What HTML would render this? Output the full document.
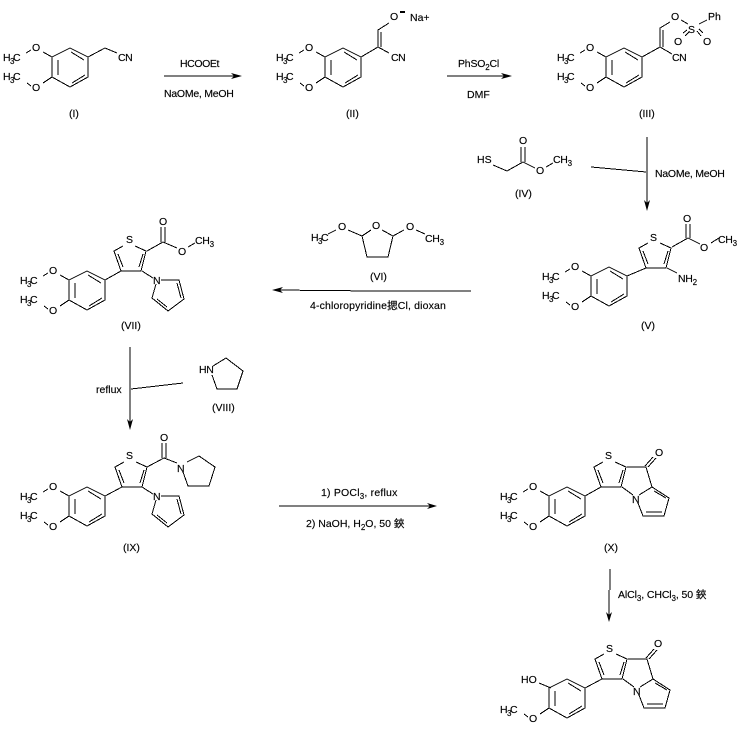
<!DOCTYPE html>
<html><head><meta charset="utf-8"><style>
html,body{margin:0;padding:0;background:#fff}
svg{display:block}
text{font-family:"Liberation Sans","Noto Sans CJK SC",sans-serif;font-size:10.5px;fill:#000;stroke:#000;stroke-width:.15}
text.s,tspan.s{font-size:8px}
path{fill:none;stroke:#000;stroke-width:1;shape-rendering:crispEdges}
polygon{fill:#000;stroke:none}
</style></head><body>
<svg width="742" height="731" viewBox="0 0 742 731" xmlns="http://www.w3.org/2000/svg">
<rect width="742" height="731" fill="#fff"/>
<defs>
<path id="ar" d="M70 48L88 57L88 77L70 87L52 77L52 57L70 48M58 60L58 75M71 52L84 60M72 83L85 75M43 52L52 57M43 83L52 77M26 53L31 50M27 83L31 86"/>
<path id="ar2" d="M70 48L88 57L88 77L70 87L52 77L52 57L70 48M58 60L58 75M71 52L84 60M72 83L85 75M43 83L52 77M27 83L31 86M42 52L54 57"/>
<path id="th" d="M0 0L-7 -20L2 -25M14 -25L25 -20L20 0L0 0M-3 -17L2 -4M22 -17L18 -4"/>
<path id="py" d="M161 280L179 280L184 299L168 311L152 298L156 284M177 283L181 298M167 307L157 299M142 271L153 278"/>
</defs>

<!-- I -->
<use href="#ar"/>
<path d="M88 57L105 48L117 53"/>
<text x="3" y="61">H</text><text class="s" x="10" y="64">3</text><text x="13" y="61">C</text><text x="32" y="51">O</text>
<text x="3" y="80">H</text><text class="s" x="10" y="83">3</text><text x="13" y="80">C</text><text x="32" y="91">O</text>
<text x="118" y="61" letter-spacing="-.4">CN</text>
<text x="69" y="117">(I)</text>
<text x="180" y="67" letter-spacing="-.4">HCOOEt</text>
<path d="M164 76L240 76"/><polygon points="231,73 242,76 231,79 234,76"/>
<text x="164" y="97" letter-spacing="-.25">NaOMe, MeOH</text>

<!-- II -->
<g transform="translate(273,0)"><use href="#ar"/>
<text x="3" y="61">H</text><text class="s" x="10" y="64">3</text><text x="13" y="61">C</text><text x="32" y="51">O</text>
<text x="3" y="80">H</text><text class="s" x="10" y="83">3</text><text x="13" y="80">C</text><text x="32" y="91">O</text></g>
<path d="M361 57L378 47L389 53M378 47L378 30L389 23M381 47L381 32"/>
<text x="391" y="61" letter-spacing="-.4">CN</text><text x="390" y="20">O</text>
<rect x="400" y="11" width="5" height="2" fill="#000"/>
<text x="410" y="21">Na+</text>
<text x="346" y="117">(II)</text>
<text x="458" y="67" letter-spacing="-.2">PhSO<tspan class="s" dy="3">2</tspan><tspan dy="-3">Cl</tspan></text>
<path d="M447 76L510 76"/><polygon points="501,73 512,76 501,79 504,76"/>
<text x="467" y="98">DMF</text>

<!-- III -->
<g transform="translate(554,0)"><use href="#ar"/>
<text x="3" y="61">H</text><text class="s" x="10" y="64">3</text><text x="13" y="61">C</text><text x="32" y="51">O</text>
<text x="3" y="80">H</text><text class="s" x="10" y="83">3</text><text x="13" y="80">C</text><text x="32" y="91">O</text></g>
<path d="M642 57L660 47L672 54M660 47L660 28L670 22M663 47L663 30M681 20L688 24M699 24L707 20M685 36L689 32M683 33L687 30M697 31L701 36M699 29L703 33"/>
<text x="671" y="20">O</text><text x="688" y="33">S</text><text x="708" y="20">Ph</text>
<text x="674" y="45">O</text><text x="703" y="45">O</text><text x="672" y="61" letter-spacing="-.4">CN</text>
<text x="639" y="117">(III)</text>

<!-- IV -->
<text x="477" y="163">HS</text>
<path d="M493 165L507 171L523 162L535 168M521 162L521 147M525 162L525 147M546 167L553 163"/>
<text x="519" y="144">O</text><text x="536" y="174">O</text>
<text x="553" y="163" letter-spacing="-.3">CH<tspan class="s" dy="3">3</tspan></text>
<text x="515" y="197">(IV)</text>
<path d="M647 137L647 209M591 167L646 172"/>
<polygon points="644,200 647,211 650,200 647,203"/>
<text x="655" y="177" letter-spacing="-.25">NaOMe, MeOH</text>

<!-- V -->
<g transform="translate(539,219)"><use href="#ar"/>
<text x="3" y="61">H</text><text class="s" x="10" y="64">3</text><text x="13" y="61">C</text><text x="32" y="51">O</text>
<text x="3" y="80">H</text><text class="s" x="10" y="83">3</text><text x="13" y="80">C</text><text x="32" y="91">O</text></g>
<path d="M627 276L646 268"/>
<use href="#th" transform="translate(646,268)"/>
<text x="650" y="241">S</text>
<path d="M672 247L688 238L700 244M686 238L686 224M690 238L690 224M711 243L719 238M667 268L677 273"/>
<text x="683" y="222">O</text><text x="700" y="251">O</text>
<text x="718" y="243" letter-spacing="-.3">CH<tspan class="s" dy="3">3</tspan></text>
<text x="678" y="282" letter-spacing="-.3">NH<tspan class="s" dy="3">2</tspan></text>
<text x="641" y="329">(V)</text>

<!-- VI -->
<text x="311" y="241">H</text><text class="s" x="318" y="244">3</text><text x="321" y="241">C</text>
<path d="M328 234L336 230M348 230L362 236L371 230M382 230L393 236L388 257L367 257L362 236M393 236L404 230M416 230L425 234"/>
<text x="338" y="230">O</text><text x="372" y="229">O</text><text x="406" y="230">O</text>
<text x="425" y="242" letter-spacing="-.3">CH<tspan class="s" dy="3">3</tspan></text>
<text x="370" y="280">(VI)</text>
<path d="M471 291L376 291L274 290"/><polygon points="283,287 272,290 283,293 280,290"/>
<text x="310" y="309" letter-spacing=".15">4-chloropyridine揌Cl, dioxan</text>

<!-- VII -->
<g transform="translate(17,223)"><use href="#ar"/>
<text x="3" y="61">H</text><text class="s" x="10" y="64">3</text><text x="13" y="61">C</text><text x="32" y="51">O</text>
<text x="3" y="80">H</text><text class="s" x="10" y="83">3</text><text x="13" y="80">C</text><text x="32" y="91">O</text></g>
<path d="M105 280L121 271"/>
<use href="#th" transform="translate(121,271)"/>
<text x="126" y="243">S</text>
<path d="M147 251L163 242L177 248M161 242L161 227M165 242L165 227M188 247L195 243"/>
<text x="159" y="225">O</text><text x="178" y="255">O</text>
<text x="195" y="244" letter-spacing="-.3">CH<tspan class="s" dy="3">3</tspan></text>
<use href="#py"/>
<text x="153" y="284">N</text>
<text x="121" y="329">(VII)</text>

<path d="M130 347L130 428M131 389L183 383"/><polygon points="127,419 130,430 133,419 130,422"/>
<text x="96" y="393">reflux</text>

<!-- VIII -->
<text x="199" y="373" letter-spacing="-.3">HN</text>
<path d="M213 366L226 358L243 371L237 389L217 389L212 375"/>
<text x="212" y="411">(VIII)</text>

<!-- IX -->
<g transform="translate(17,439)"><use href="#ar"/>
<text x="3" y="61">H</text><text class="s" x="10" y="64">3</text><text x="13" y="61">C</text><text x="32" y="51">O</text>
<text x="3" y="80">H</text><text class="s" x="10" y="83">3</text><text x="13" y="80">C</text><text x="32" y="91">O</text></g>
<path d="M105 496L122 487"/>
<use href="#th" transform="translate(122,487)"/>
<text x="126" y="459">S</text>
<path d="M147 467L164 458L177 463M162 458L162 443M166 458L166 443M187 462L199 456L215 467L209 486L188 486L183 472"/>
<text x="160" y="441">O</text><text x="177" y="472">N</text>
<use href="#py" transform="translate(0,216)"/>
<text x="153" y="500">N</text>
<text x="123" y="551">(IX)</text>

<text x="321" y="496" letter-spacing=".2">1) POCl<tspan class="s" dy="3">3</tspan><tspan dy="-3">, reflux</tspan></text>
<path d="M279 506L435 506"/><polygon points="427,503 437,506 427,509 430,506"/>
<text x="306" y="527">2) NaOH, H<tspan class="s" dy="3">2</tspan><tspan dy="-3">O, 50 鋏</tspan></text>

<!-- X -->
<g transform="translate(497,439)"><use href="#ar"/>
<text x="3" y="61">H</text><text class="s" x="10" y="64">3</text><text x="13" y="61">C</text><text x="32" y="51">O</text>
<text x="3" y="80">H</text><text class="s" x="10" y="83">3</text><text x="13" y="80">C</text><text x="32" y="91">O</text></g>
<path d="M585 496L601 487"/>
<use href="#th" transform="translate(601,487)"/>
<text x="605" y="459">S</text>
<path d="M627 467L646 467L652 487M645 466L653 457M648 467L656 458M622 487L633 495M639 495L652 487L669 498L664 516L643 516L638 503M654 491L666 498M662 512L646 512"/>
<text x="655" y="456">O</text><text x="632" y="503">N</text>
<text x="604" y="551">(X)</text>

<path d="M610 569L610 590M609 590L609 620"/><polygon points="606,612 609,622 612,612 609,615"/>
<text x="618" y="598" letter-spacing="-.1">AlCl<tspan class="s" dy="3">3</tspan><tspan dy="-3">, CHCl</tspan><tspan class="s" dy="3">3</tspan><tspan dy="-3">, 50 鋏</tspan></text>

<!-- XI -->
<g transform="translate(497,631)"><use href="#ar2"/>
<text x="3" y="82">H</text><text class="s" x="10" y="85">3</text><text x="13" y="82">C</text><text x="32" y="91">O</text></g>
<text x="521" y="683">HO</text>
<path d="M585 688L602 679"/>
<use href="#th" transform="translate(602,679)"/>
<text x="606" y="652">S</text>
<path d="M628 659L647 659L653 679M646 658L654 649M649 659L657 650M623 679L634 687M640 687L653 679L670 690L665 708L644 708L639 695M655 683L667 690M663 704L647 704"/>
<text x="654" y="647">O</text><text x="633" y="695">N</text>
</svg>
</body></html>
